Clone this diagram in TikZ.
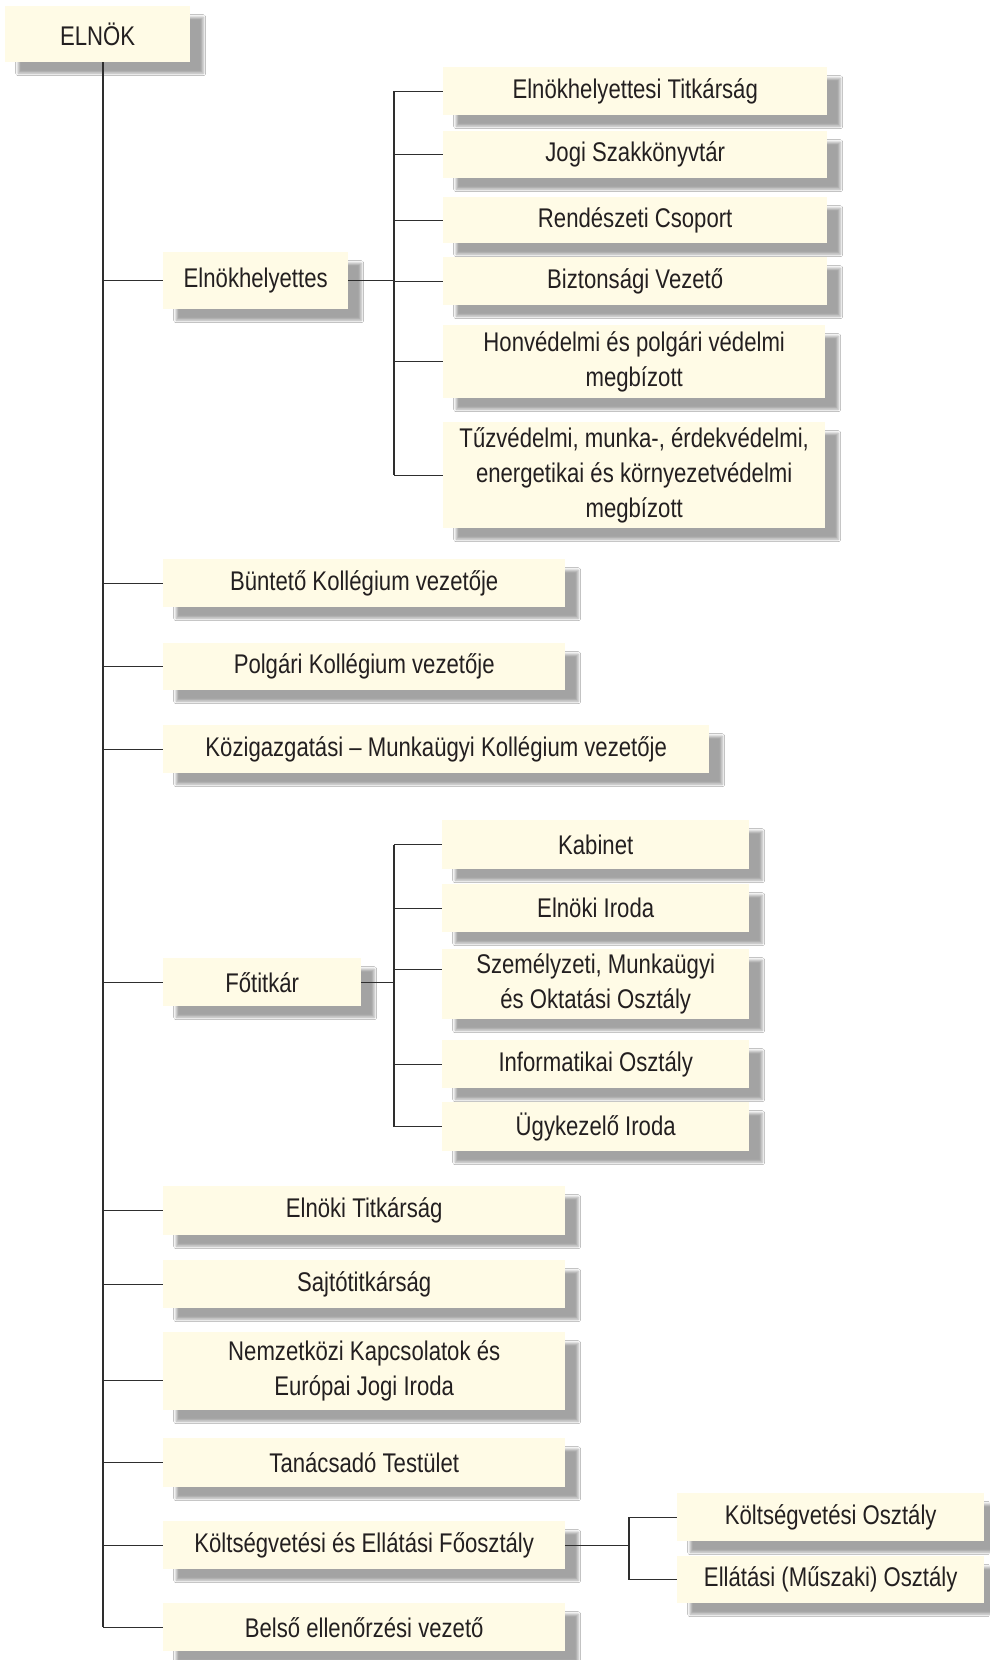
\documentclass[tikz,border=0pt]{standalone}
\usepackage{fontspec}
\setmainfont{Liberation Sans}[FakeStretch=0.82]
\usetikzlibrary{shadows.blur}
\definecolor{boxfill}{HTML}{FFFBE6}
\definecolor{txt}{HTML}{231F20}
\definecolor{linec}{HTML}{2E2E2E}
\tikzset{
  obox/.style={fill=boxfill, draw=none, inner sep=0pt, align=center, text=txt,
    font=\fontsize{27}{35}\selectfont,
    blur shadow={shadow xshift=13pt, shadow yshift=-11pt, shadow blur radius=2.5pt, shadow opacity=36}},
  conn/.style={draw=linec, line width=1.3pt}
}
\newcommand\obox[6]{\node[obox, minimum width=#4pt, minimum height=#5pt, anchor=north west] (#1) at (#2,#3) {#6};}
\begin{document}
\begin{tikzpicture}[x=1pt,y=-1pt]
\fill[white] (0,0) rectangle (989,1660);
\useasboundingbox (0,0) rectangle (989,1660);
% boxes
\obox{elnok}{5}{6}{185}{56}{ELNÖK}
\obox{eh}{163}{252}{185}{57}{Elnökhelyettes}
\obox{c1}{443}{67}{384}{48}{Elnökhelyettesi Titkárság}
\obox{c2}{443}{131}{384}{47}{Jogi Szakkönyvtár}
\obox{c3}{443}{197}{384}{46}{Rendészeti Csoport}
\obox{c4}{443}{257}{384}{48}{Biztonsági Vezető}
\obox{c5}{443}{325}{382}{73}{Honvédelmi és polgári védelmi\\megbízott}
\obox{c6}{443}{422}{382}{106}{Tűzvédelmi, munka-, érdekvédelmi,\\energetikai és környezetvédelmi\\megbízott}
\obox{bk}{163}{559}{402}{48}{Büntető Kollégium vezetője}
\obox{pk}{163}{643}{402}{47}{Polgári Kollégium vezetője}
\obox{kk}{163}{725}{546}{48}{Közigazgatási – Munkaügyi Kollégium vezetője}
\obox{ft}{163}{958}{198}{48}{Főtitkár}
\obox{f1}{442}{820}{307}{49}{Kabinet}
\obox{f2}{442}{884}{307}{48}{Elnöki Iroda}
\obox{f3}{442}{949}{307}{70}{Személyzeti, Munkaügyi\\és Oktatási Osztály}
\obox{f4}{442}{1040}{307}{48}{Informatikai Osztály}
\obox{f5}{442}{1102}{307}{49}{Ügykezelő Iroda}
\obox{et}{163}{1186}{402}{49}{Elnöki Titkárság}
\obox{st}{163}{1260}{402}{48}{Sajtótitkárság}
\obox{nk}{163}{1332}{402}{78}{Nemzetközi Kapcsolatok és\\Európai Jogi Iroda}
\obox{tt}{163}{1438}{402}{49}{Tanácsadó Testület}
\obox{kf}{163}{1521}{402}{48}{Költségvetési és Ellátási Főosztály}
\obox{be}{163}{1603}{402}{48}{Belső ellenőrzési vezető}
\obox{ko}{677}{1493}{307}{48}{Költségvetési Osztály}
\obox{eo}{677}{1556}{307}{47}{Ellátási (Műszaki) Osztály}
% trunk coordinates
\coordinate (T) at (103,0);
\coordinate (S1) at (394,0);
\coordinate (S3) at (629,0);
\coordinate (nkL) at ([yshift=-9pt]nk.west);
\coordinate (f3L) at ([yshift=15pt]f3.west);
% main trunk
\draw[conn] (T |- elnok.south) -- (T |- be.west);
\foreach \n in {eh,bk,pk,kk,ft,et,st,tt,kf,be} {\draw[conn] (T |- \n.west) -- (\n.west);}
\draw[conn] (T |- nkL) -- (nkL);
% Elnokhelyettes branch
\draw[conn] (eh.east) -- (S1 |- eh.east);
\draw[conn] (S1 |- c1.west) -- (S1 |- c6.west);
\foreach \n in {c1,c2,c3,c4,c5,c6} {\draw[conn] (S1 |- \n.west) -- (\n.west);}
% Fotitkar branch
\draw[conn] (ft.east) -- (S1 |- ft.east);
\draw[conn] (S1 |- f1.west) -- (S1 |- f5.west);
\foreach \n in {f1,f2,f4,f5} {\draw[conn] (S1 |- \n.west) -- (\n.west);}
\draw[conn] (S1 |- f3L) -- (f3L);
% Koltsegvetesi branch
\draw[conn] (kf.east) -- (S3 |- kf.east);
\draw[conn] (S3 |- ko.west) -- (S3 |- eo.west);
\draw[conn] (S3 |- ko.west) -- (ko.west);
\draw[conn] (S3 |- eo.west) -- (eo.west);
\end{tikzpicture}
\end{document}
